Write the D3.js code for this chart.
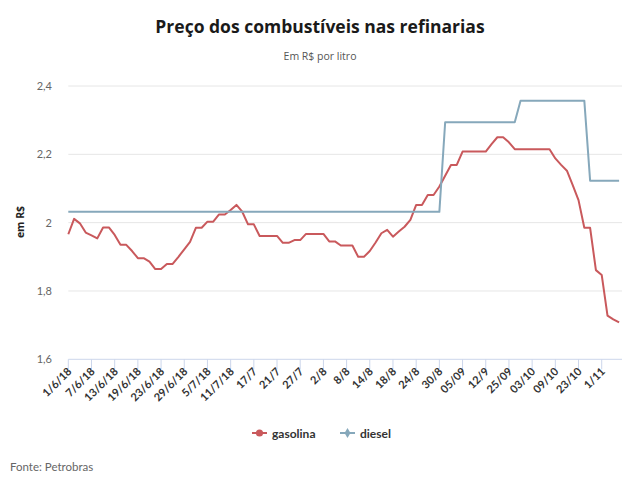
<!DOCTYPE html>
<html>
<head>
<meta charset="utf-8">
<script src="https://cdn.jsdelivr.net/npm/d3@7"></script>
<style>
  body { margin: 0; background: #fff; }
  svg { display: block; }
</style>
</head>
<body>
<svg id="chart" width="640" height="482"></svg>
<script>
const tickLabels = ["1/6/18","7/6/18","13/6/18","19/6/18","23/6/18","29/6/18","5/7/18","11/7/18","17/7","21/7","27/7","2/8","8/8","14/8","18/8","24/8","30/8","05/09","12/9","25/09","03/10","09/10","23/10","1/11"];
const gasolina = [1.966,2.011,1.998,1.971,1.963,1.954,1.986,1.986,1.964,1.935,
  1.935,1.917,1.896,1.896,1.886,1.864,1.864,1.879,1.879,1.900,
  1.922,1.944,1.985,1.985,2.003,2.003,2.024,2.024,2.037,2.052,
  2.032,1.995,1.995,1.961,1.961,1.961,1.961,1.941,1.941,1.949,
  1.949,1.967,1.967,1.967,1.967,1.945,1.945,1.933,1.933,1.933,
  1.900,1.900,1.917,1.942,1.969,1.979,1.959,1.974,1.988,2.008,
  2.052,2.052,2.081,2.081,2.106,2.137,2.169,2.169,2.208,2.208,
  2.208,2.208,2.208,2.230,2.250,2.250,2.235,2.215,2.215,2.215,
  2.215,2.215,2.215,2.215,2.188,2.169,2.152,2.110,2.066,1.985,
  1.985,1.861,1.847,1.728,1.717,1.708];
const diesel = [
  2.0316,2.0316,2.0316,2.0316,2.0316,2.0316,2.0316,2.0316,2.0316,2.0316,
  2.0316,2.0316,2.0316,2.0316,2.0316,2.0316,2.0316,2.0316,2.0316,2.0316,
  2.0316,2.0316,2.0316,2.0316,2.0316,2.0316,2.0316,2.0316,2.0316,2.0316,
  2.0316,2.0316,2.0316,2.0316,2.0316,2.0316,2.0316,2.0316,2.0316,2.0316,
  2.0316,2.0316,2.0316,2.0316,2.0316,2.0316,2.0316,2.0316,2.0316,2.0316,
  2.0316,2.0316,2.0316,2.0316,2.0316,2.0316,2.0316,2.0316,2.0316,2.0316,
  2.0316,2.0316,2.0316,2.0316,2.0316,
  2.294,2.294,2.294,2.294,2.294,2.294,2.294,2.294,2.294,2.294,2.294,2.294,2.294,
  2.357,2.357,2.357,2.357,2.357,2.357,2.357,2.357,2.357,2.357,2.357,2.357,
  2.123,2.123,2.123,2.123,2.123,2.123];
const yTicks = [1.6, 1.8, 2.0, 2.2, 2.4];
const tickEvery = 4;

const svg = d3.select("#chart");
const colG = "#c9595c", colD = "#86a8bb";

const x = d3.scaleLinear().domain([0, 95]).range([68.3, 619.1]);
const y = d3.scaleLinear().domain([1.6, 2.4]).range([359.3, 86]);
const plotRight = 622;

// title
svg.append("text").attr("x", 320).attr("y", 33).attr("text-anchor", "middle")
  .attr("font-family", "Open Sans").attr("font-weight", 700).attr("font-size", 17.5)
  .attr("fill", "#1a1a1a").text("Preço dos combustíveis nas refinarias");
svg.append("text").attr("x", 320).attr("y", 60).attr("text-anchor", "middle")
  .attr("font-family", "Open Sans").attr("font-size", 10.5)
  .attr("fill", "#555").text("Em R$ por litro");

// gridlines
const grid = svg.append("g");
yTicks.forEach(t => {
  if (t === 1.6) return;
  grid.append("line").attr("x1", x(0)).attr("x2", plotRight)
    .attr("y1", y(t)).attr("y2", y(t)).attr("stroke", "#e6e6e6").attr("stroke-width", 1);
});
// y labels
const yAx = svg.append("g");
yTicks.forEach(t => {
  yAx.append("text").attr("x", 52).attr("y", y(t) + 4).attr("text-anchor", "end")
    .attr("font-family", "Lato").attr("font-size", 11).attr("fill", "#666")
    .text(d3.format(".1f")(t).replace(".0", "").replace(".", ","));
});
svg.append("text").attr("transform", "translate(24,222) rotate(-90)")
  .attr("text-anchor", "middle").attr("font-family", "Open Sans").attr("font-weight", 700)
  .attr("font-size", 10.5).attr("fill", "#222").text("em R$");

// x axis
const xAx = svg.append("g");
xAx.append("line").attr("x1", x(0)).attr("x2", plotRight).attr("y1", y(1.6)).attr("y2", y(1.6))
  .attr("stroke", "#ccd6eb").attr("stroke-width", 1);
tickLabels.forEach((lab, k) => {
  const xi = x(k * tickEvery);
  xAx.append("line").attr("x1", xi).attr("x2", xi).attr("y1", y(1.6)).attr("y2", y(1.6) + 10)
    .attr("stroke", "#ccd6eb");
  xAx.append("text").attr("transform", `translate(${xi + 4},${y(1.6) + 13}) rotate(-45)`)
    .attr("text-anchor", "end").attr("font-family", "Lato").attr("font-weight", 700)
    .attr("font-size", 11).attr("fill", "#333").text(lab);
});

// lines
const line = d3.line().x((d, i) => x(i)).y(d => y(d));
svg.append("path").datum(gasolina).attr("d", line).attr("fill", "none")
  .attr("stroke", colG).attr("stroke-width", 2).attr("stroke-linejoin", "round");
svg.append("path").datum(diesel).attr("d", line).attr("fill", "none")
  .attr("stroke", colD).attr("stroke-width", 2).attr("stroke-linejoin", "round");

// legend
const leg = svg.append("g");
const items = [{name: "gasolina", c: colG, sym: "circle", x0: 252}, {name: "diesel", c: colD, sym: "diamond", x0: 340}];
items.forEach(it => {
  leg.append("line").attr("x1", it.x0).attr("x2", it.x0 + 15).attr("y1", 433).attr("y2", 433)
    .attr("stroke", it.c).attr("stroke-width", 2);
  leg.append("path").attr("d", d3.symbol().type(it.sym === "circle" ? d3.symbolCircle : d3.symbolDiamond).size(it.sym === "circle" ? 40 : 30)())
    .attr("transform", `translate(${it.x0 + 7.5},433)`).attr("fill", it.c);
  leg.append("text").attr("x", it.x0 + 20).attr("y", 437.5)
    .attr("font-family", "Lato").attr("font-weight", 700).attr("font-size", 12)
    .attr("fill", "#333").text(it.name);
});

// source
svg.append("text").attr("x", 10).attr("y", 471).attr("font-family", "Lato")
  .attr("font-size", 11.5).attr("fill", "#666").text("Fonte: Petrobras");
</script>
</body>
</html>
